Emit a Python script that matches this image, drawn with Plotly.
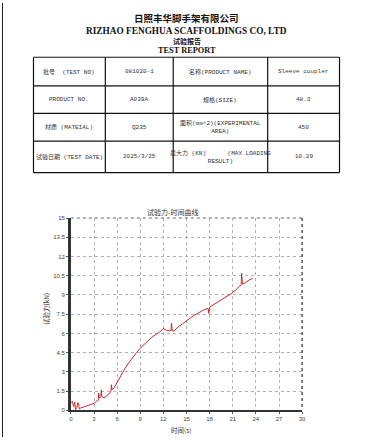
import plotly.graph_objects as go

# ---------------- data ----------------
time_s = [0, 0.2, 0.35, 0.5, 0.6, 0.75, 0.9, 1.0, 1.1, 1.3, 1.6, 2.0, 2.5, 3.0, 3.4, 3.55, 3.6, 3.7,
          3.9, 3.95, 4.0, 4.3, 4.6, 5.0, 5.2, 5.25, 5.35, 5.6, 6.0, 6.5, 7.0, 7.5, 8.0, 8.5, 9.0,
          9.5, 10.0, 10.5, 11.0, 11.5, 12.0, 12.4, 12.8, 13.0, 13.05, 13.15, 13.4, 13.9, 14.5,
          15.0, 15.5, 16.1, 16.7, 17.3, 17.8, 17.9, 18.0, 18.4, 19.0, 19.5, 20.1, 20.8, 21.4,
          22.0, 22.1, 22.15, 22.25, 22.5, 22.8, 23.2, 23.6]
force_kn = [0.6, 0.7, 0.3, 0.65, 0.05, 0.2, 0.6, 0.5, 0.1, 0.2, 0.25, 0.35, 0.45, 0.55, 0.75, 0.8,
            1.35, 0.95, 1.1, 1.6, 1.1, 0.97, 1.1, 1.3, 1.45, 2.0, 1.6, 1.75, 2.2, 2.75, 3.25, 3.7,
            4.15, 4.5, 4.85, 5.15, 5.45, 5.7, 5.9, 6.1, 6.38, 6.25, 6.2, 6.25, 6.8, 6.2, 6.2, 6.5,
            6.75, 7.0, 7.2, 7.45, 7.67, 7.85, 7.95, 7.55, 8.05, 8.2, 8.4, 8.6, 8.8, 9.1, 9.4,
            9.75, 9.8, 10.7, 9.85, 9.9, 10.05, 10.2, 10.29]

x_ticks = [0, 3, 6, 9, 12, 15, 18, 21, 24, 27, 30]
y_ticks = [0, 1.5, 3, 4.5, 6, 7.5, 9, 10.5, 12, 13.5, 15]
y_tick_labels = ["0", "1.5", "3", "4.5", "6", "7.5", "9", "10.5", "12", "13.5", "15"]

header_lines = ["日照丰华脚手架有限公司", "RIZHAO FENGHUA SCAFFOLDINGS CO, LTD", "试验报告", "TEST REPORT"]

table_rows = [
    ["批号  (TEST NO)", "081020-1", "名称(PRODUCT NAME)", "Sleeve coupler"],
    ["PRODUCT NO.", "A039A", "规格(SIZE)", "48.3"],
    ["材质 (MATEIAL)", "Q235", "面积(mm^2)(EXPERIMENTAL<br>AREA)", "450"],
    ["试验日期 (TEST DATE)", "2025/3/25", "最大力 (KN)      (MAX LOADING<br>RESULT)", "10.29"],
]

chart_title = "试验力-时间曲线"
x_title = "时间(s)"
y_title = "试验力(kN)"

# ---------------- layout helpers ----------------
W, H = 375, 440


def px(x):
    return x / W


def py(y):
    return 1 - y / H


fig = go.Figure()
fig.add_trace(go.Scatter(x=time_s, y=force_kn, mode="lines",
                         line=dict(color="#cc2a2a", width=1), showlegend=False,
                         hoverinfo="skip"))

PL, PR, PT, PB = 70, 305, 218, 413
tick_font = dict(family="Arial, Liberation Sans", size=6, color="#444")

fig.update_layout(
    width=W, height=H, margin=dict(l=0, r=0, t=0, b=0),
    paper_bgcolor="white", plot_bgcolor="white",
    xaxis=dict(domain=[px(PL), px(PR)], range=[0, 30], tickvals=x_ticks,
               showgrid=True, gridcolor="#b0b0b0", griddash="dot", gridwidth=1,
               zeroline=False, showline=True, linecolor="#333", linewidth=1.5,
               ticks="outside", ticklen=2, tickcolor="#555", tickfont=tick_font,
               fixedrange=True),
    yaxis=dict(domain=[py(PB), py(PT)], range=[0, 15], tickvals=y_ticks, ticktext=y_tick_labels,
               showgrid=True, gridcolor="#b0b0b0", griddash="dot", gridwidth=1,
               zeroline=False, showline=True, linecolor="#333", linewidth=2.5,
               ticks="outside", ticklen=2, tickcolor="#555", tickfont=tick_font,
               fixedrange=True),
)

shapes = []
# top & right dotted borders of plot
shapes.append(dict(type="line", xref="paper", yref="paper", x0=px(PL), x1=px(PR), y0=py(PT), y1=py(PT),
                   line=dict(color="#666", width=1, dash="dot")))
shapes.append(dict(type="line", xref="paper", yref="paper", x0=px(PR), x1=px(PR), y0=py(PT), y1=py(PB),
                   line=dict(color="#555", width=1.5, dash="dot")))
# page left border
shapes.append(dict(type="line", xref="paper", yref="paper", x0=px(0.5), x1=px(0.5), y0=0, y1=1,
                   line=dict(color="#222", width=1)))

# table grid
col_x = [32, 105, 174, 270, 343]
row_y = [55, 84, 112, 140, 172]
for x in col_x:
    shapes.append(dict(type="line", xref="paper", yref="paper", x0=px(x), x1=px(x),
                       y0=py(row_y[0]), y1=py(row_y[-1]), line=dict(color="#111", width=1.2)))
for y in row_y:
    shapes.append(dict(type="line", xref="paper", yref="paper", x0=px(col_x[0]), x1=px(col_x[-1]),
                       y0=py(y), y1=py(y), line=dict(color="#111", width=1.2)))
fig.update_layout(shapes=shapes)

ann = []
header_specs = [
    (15, 9.5, "Noto Sans CJK SC"),
    (28, 9.3, "Liberation Serif, Times New Roman"),
    (38.5, 7, "Noto Sans CJK SC"),
    (48.5, 8.3, "Liberation Serif, Times New Roman"),
]
for text, (y, size, fam) in zip(header_lines, header_specs):
    ann.append(dict(x=px(187.5), y=py(y), xref="paper", yref="paper", showarrow=False,
                    text=f"<b>{text}</b>", xanchor="center", yanchor="middle",
                    borderpad=0,
                    font=dict(family=fam, size=size, color="#111")))

cell_font = dict(family="Liberation Mono, Noto Sans CJK SC", size=6, color="#333")
for r, row in enumerate(table_rows):
    yc = (row_y[r] + row_y[r + 1]) / 2
    for c, txt in enumerate(row):
        xc = (col_x[c] + col_x[c + 1]) / 2
        ann.append(dict(x=px(xc), y=py(yc), xref="paper", yref="paper", showarrow=False,
                        text=txt, xanchor="center", yanchor="middle", align="center",
                        font=cell_font))

ann.append(dict(x=px(173), y=py(212), xref="paper", yref="paper", showarrow=False, text=chart_title,
                xanchor="center", yanchor="middle",
                font=dict(family="Noto Sans CJK SC", size=7, color="#333")))
ann.append(dict(x=px(182), y=py(433), xref="paper", yref="paper", showarrow=False, text=x_title,
                xanchor="center", yanchor="middle",
                font=dict(family="Noto Sans CJK SC", size=6.5, color="#333")))
ann.append(dict(x=px(44), y=py(310), xref="paper", yref="paper", showarrow=False, text=y_title,
                xanchor="center", yanchor="middle", textangle=-90,
                font=dict(family="Noto Sans CJK SC", size=6.5, color="#333")))
fig.update_layout(annotations=ann)

fig.write_html("out.html", config={"displayModeBar": False},
               post_script="document.body.style.margin='0';document.body.style.padding='0';"
                           "document.documentElement.style.overflow='hidden';")
